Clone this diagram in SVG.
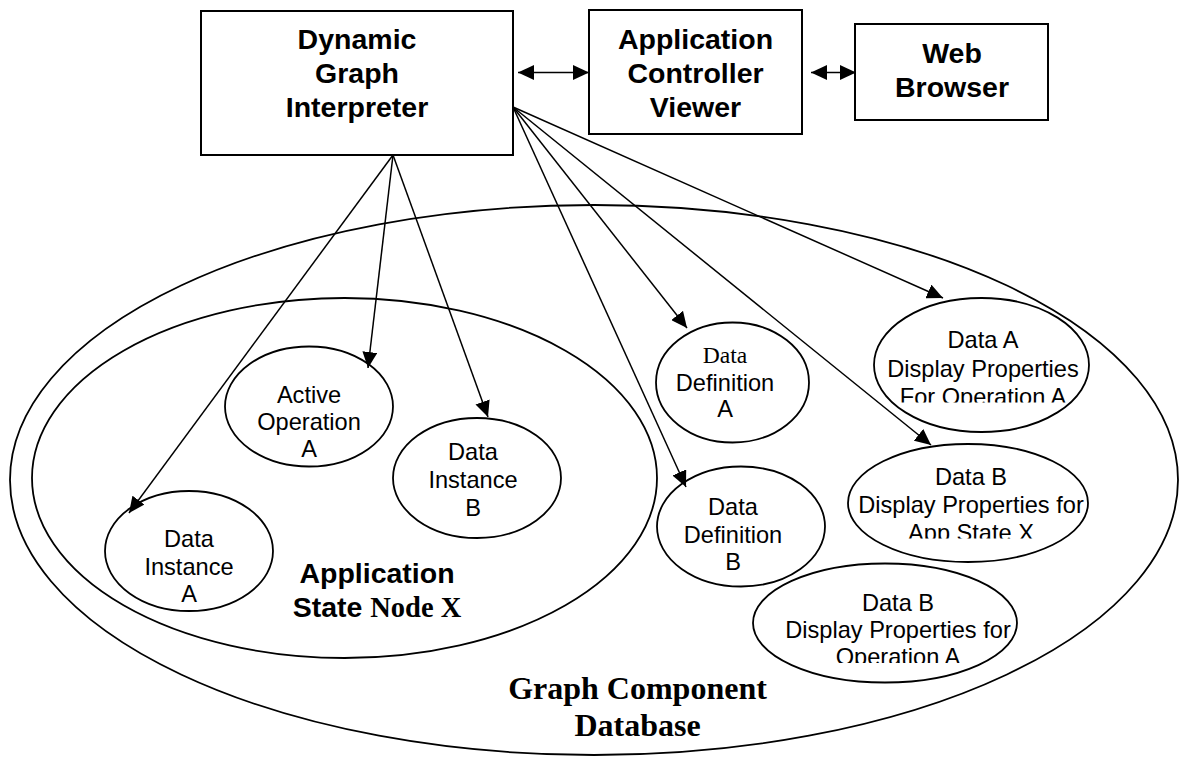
<svg xmlns="http://www.w3.org/2000/svg" width="1180" height="757" viewBox="0 0 1180 757">
<style>
.box{fill:#fff;stroke:#000;stroke-width:2}
.ell{fill:none;stroke:#000;stroke-width:1.8}
.ln{fill:none;stroke:#000;stroke-width:1.5}
.bl{font-family:"Liberation Sans",Arial,sans-serif;font-weight:bold;font-size:28.5px;text-anchor:middle;fill:#000}
.et{font-family:"Liberation Sans",Arial,sans-serif;font-size:23.6px;text-anchor:middle;fill:#000}
.tr{font-family:"Liberation Serif","Times New Roman",serif}
.gc{font-family:"Liberation Serif","Times New Roman",serif;font-weight:bold;font-size:32px;text-anchor:middle;fill:#000}
</style>
<defs>
<marker id="ah" viewBox="0 0 16 15" refX="16" refY="7.5" markerWidth="16" markerHeight="15" markerUnits="userSpaceOnUse" orient="auto-start-reverse">
<path d="M0,0 L16,7.5 L0,15 Z" fill="#000"/>
</marker>
<clipPath id="cA"><rect x="0" y="0" width="1180" height="402.5"/></clipPath>
<clipPath id="cX"><rect x="0" y="0" width="1180" height="538.5"/></clipPath>
<clipPath id="cO"><rect x="0" y="0" width="1180" height="663"/></clipPath>
</defs>
<rect width="1180" height="757" fill="#fff"/>

<g id="graph-component-database">
<ellipse class="ell" cx="594" cy="480" rx="584" ry="275"/>
<text class="gc" x="637.5" y="699">Graph Component</text>
<text class="gc" x="637.5" y="736">Database</text>
</g>

<g id="application-state-node-x">
<ellipse class="ell" cx="344.5" cy="478" rx="312.5" ry="180"/>
<text class="bl" x="377" y="583">Application</text>
<text class="bl" x="377" y="617">State <tspan class="tr">Node X</tspan></text>
</g>

<g id="dynamic-graph-interpreter">
<rect class="box" x="201" y="11" width="312" height="144"/>
<text class="bl" x="357" y="49">Dynamic</text>
<text class="bl" x="357" y="83">Graph</text>
<text class="bl" x="357" y="117">Interpreter</text>
</g>

<g id="application-controller-viewer">
<rect class="box" x="589" y="10" width="213" height="124"/>
<text class="bl" x="695.5" y="49">Application</text>
<text class="bl" x="695.5" y="83">Controller</text>
<text class="bl" x="695.5" y="117">Viewer</text>
</g>

<g id="web-browser">
<rect class="box" x="855" y="24" width="193" height="96"/>
<text class="bl" x="952" y="63">Web</text>
<text class="bl" x="952" y="97">Browser</text>
</g>

<g id="active-operation-a">
<ellipse class="ell" cx="309" cy="406.5" rx="84" ry="60"/>
<text class="et" x="309" y="403">Active</text>
<text class="et" x="309" y="430">Operation</text>
<text class="et" x="309" y="457">A</text>
</g>

<g id="data-instance-a">
<ellipse class="ell" cx="189" cy="551" rx="84" ry="60"/>
<text class="et" x="189" y="547">Data</text>
<text class="et" x="189" y="575">Instance</text>
<text class="et" x="189" y="602">A</text>
</g>

<g id="data-instance-b">
<ellipse class="ell" cx="477" cy="478" rx="84" ry="60"/>
<text class="et" x="473" y="460">Data</text>
<text class="et" x="473" y="488">Instance</text>
<text class="et" x="473" y="516">B</text>
</g>

<g id="data-definition-a">
<ellipse class="ell" cx="732.5" cy="382.5" rx="76.5" ry="60"/>
<text class="et tr" x="725" y="363">Data</text>
<text class="et" x="725" y="391">Definition</text>
<text class="et" x="725" y="417">A</text>
</g>

<g id="data-definition-b">
<ellipse class="ell" cx="741" cy="526.5" rx="84" ry="60"/>
<text class="et" x="733" y="515">Data</text>
<text class="et" x="733" y="543">Definition</text>
<text class="et" x="733" y="570">B</text>
</g>

<g id="data-a-display-properties-operation-a">
<ellipse class="ell" cx="981.5" cy="365" rx="107.5" ry="67"/>
<g clip-path="url(#cA)">
<text class="et" x="983" y="348">Data A</text>
<text class="et" x="983" y="377">Display Properties</text>
<text class="et" x="983" y="405">For Operation A</text>
</g>
</g>

<g id="data-b-display-properties-app-state-x">
<ellipse class="ell" cx="968" cy="503" rx="120" ry="59"/>
<g clip-path="url(#cX)">
<text class="et" x="971" y="485">Data B</text>
<text class="et" x="971" y="513">Display Properties for</text>
<text class="et" x="971" y="541">App State X</text>
</g>
</g>

<g id="data-b-display-properties-operation-a">
<ellipse class="ell" cx="885" cy="623" rx="132" ry="59.5"/>
<g clip-path="url(#cO)">
<text class="et" x="898" y="611">Data B</text>
<text class="et" x="898" y="638">Display Properties for</text>
<text class="et" x="898" y="665">Operation A</text>
</g>
</g>

<g id="connectors">
<line class="ln" x1="518" y1="72.5" x2="589" y2="72.5" marker-start="url(#ah)" marker-end="url(#ah)"/>
<line class="ln" x1="811" y1="72.5" x2="856" y2="72.5" marker-start="url(#ah)" marker-end="url(#ah)"/>
<line class="ln" x1="393" y1="155" x2="129" y2="513" marker-end="url(#ah)"/>
<line class="ln" x1="393" y1="155" x2="368" y2="368" marker-end="url(#ah)"/>
<line class="ln" x1="393" y1="155" x2="488" y2="417" marker-end="url(#ah)"/>
<line class="ln" x1="513" y1="107" x2="686" y2="487" marker-end="url(#ah)"/>
<line class="ln" x1="513" y1="107" x2="687" y2="328" marker-end="url(#ah)"/>
<line class="ln" x1="513" y1="107" x2="931" y2="445" marker-end="url(#ah)"/>
<line class="ln" x1="513" y1="107" x2="943" y2="298" marker-end="url(#ah)"/>
</g>
</svg>
